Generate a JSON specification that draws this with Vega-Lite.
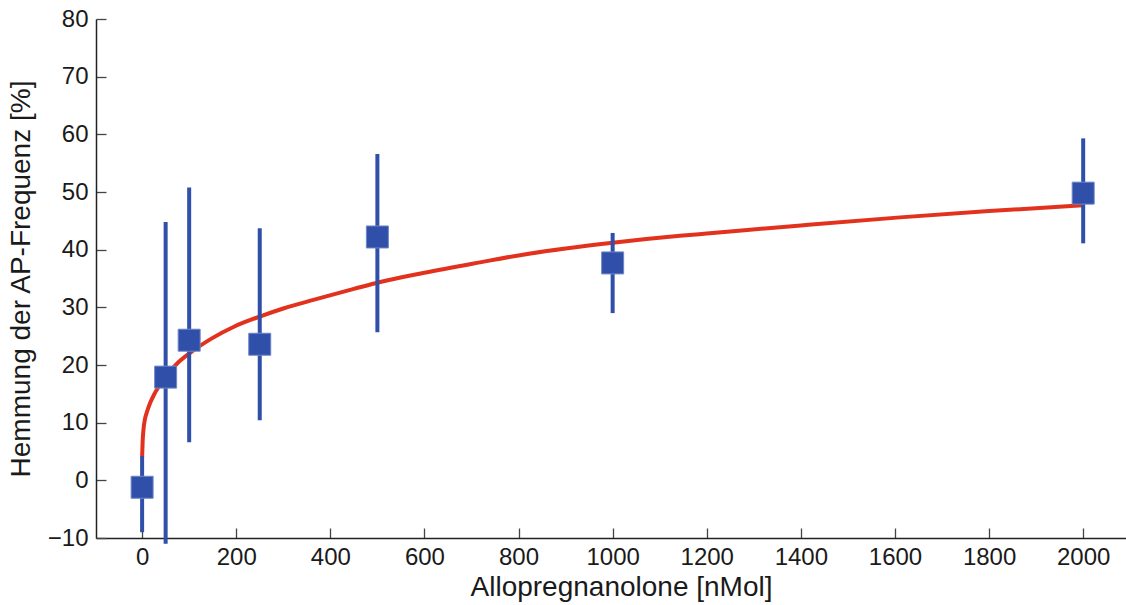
{
  "$schema": "https://vega.github.io/schema/vega-lite/v6.json",
  "width": 1030,
  "height": 519,
  "autosize": "none",
  "padding": {"left": 96, "top": 19, "right": 0, "bottom": 67},
  "background": "white",
  "config": {"view": {"stroke": null}, "font": "Liberation Sans"},
  "datasets": {
    "pts": [
      {"conc": 0, "inh": -1.2, "lo": -9.0, "hi": 4.2},
      {"conc": 50, "inh": 17.9, "lo": -11.0, "hi": 44.8},
      {"conc": 100, "inh": 24.3, "lo": 6.6, "hi": 50.8},
      {"conc": 250, "inh": 23.6, "lo": 10.4, "hi": 43.7},
      {"conc": 500, "inh": 42.2, "lo": 25.7, "hi": 56.6},
      {"conc": 1000, "inh": 37.7, "lo": 29.0, "hi": 42.9},
      {"conc": 2000, "inh": 49.8, "lo": 41.1, "hi": 59.3}
    ],
    "fit": [
      {"conc": 0, "inh": 4.0},
      {"conc": 1, "inh": 6.5},
      {"conc": 3, "inh": 8.9},
      {"conc": 6, "inh": 10.6},
      {"conc": 10, "inh": 11.8},
      {"conc": 17, "inh": 13.4},
      {"conc": 25, "inh": 14.8},
      {"conc": 35, "inh": 16.2},
      {"conc": 53, "inh": 18.3},
      {"conc": 75, "inh": 20.3},
      {"conc": 102, "inh": 22.1},
      {"conc": 150, "inh": 24.7},
      {"conc": 194, "inh": 26.6},
      {"conc": 250, "inh": 28.4},
      {"conc": 300, "inh": 29.8},
      {"conc": 364, "inh": 31.3},
      {"conc": 450, "inh": 33.2},
      {"conc": 506, "inh": 34.4},
      {"conc": 600, "inh": 36.0},
      {"conc": 718, "inh": 37.8},
      {"conc": 800, "inh": 39.0},
      {"conc": 900, "inh": 40.2},
      {"conc": 1000, "inh": 41.2},
      {"conc": 1143, "inh": 42.4},
      {"conc": 1200, "inh": 42.8},
      {"conc": 1400, "inh": 44.2},
      {"conc": 1611, "inh": 45.6},
      {"conc": 1800, "inh": 46.7},
      {"conc": 2000, "inh": 47.7}
    ]
  },
  "layer": [
    {
      "mark": {"type": "rule", "color": "#d9d9d9", "strokeWidth": 5},
      "encoding": {"y": {"datum": -1, "type": "quantitative"}}
    },
    {
      "data": {"name": "fit"},
      "mark": {"type": "line", "color": "#e2321e", "strokeWidth": 4, "interpolate": "monotone"},
      "encoding": {
        "x": {"field": "conc", "type": "quantitative"},
        "y": {"field": "inh", "type": "quantitative"}
      }
    },
    {
      "data": {"name": "pts"},
      "mark": {"type": "rule", "color": "#2f4fa8", "strokeWidth": 4, "clip": false},
      "encoding": {
        "x": {"field": "conc", "type": "quantitative"},
        "y": {"field": "lo", "type": "quantitative"},
        "y2": {"field": "hi"}
      }
    },
    {
      "data": {"name": "pts"},
      "mark": {"type": "point", "shape": "square", "filled": true, "size": 484, "color": "#2f4fa8", "opacity": 1, "stroke": "#6f86c8", "strokeWidth": 1},
      "encoding": {
        "x": {
          "field": "conc", "type": "quantitative",
          "scale": {"domain": [-98, 2091], "nice": false, "zero": false},
          "axis": {
            "title": "Allopregnanolone [nMol]",
            "values": [0, 200, 400, 600, 800, 1000, 1200, 1400, 1600, 1800, 2000],
            "format": "d",
            "grid": false,
            "tickSize": -10,
            "tickColor": "#444444",
            "tickWidth": 1.3,
            "domainColor": "#222222",
            "domainWidth": 1.5,
            "labelFontSize": 24,
            "labelColor": "#1a1a1a",
            "labelPadding": 17,
            "titleFontSize": 28,
            "titleFontWeight": "normal",
            "titleColor": "#1a1a1a",
            "titlePadding": 4,
            "titleX": 525
          }
        },
        "y": {
          "field": "inh", "type": "quantitative",
          "scale": {"domain": [-10, 80], "nice": false, "zero": false},
          "axis": {
            "title": "Hemmung der AP-Frequenz [%]",
            "values": [-10, 0, 10, 20, 30, 40, 50, 60, 70, 80],
            "labelExpr": "replace(datum.label, '-', '−')",
            "grid": false,
            "tickSize": -10,
            "tickColor": "#444444",
            "tickWidth": 1.3,
            "domainColor": "#222222",
            "domainWidth": 1.5,
            "labelFontSize": 24,
            "labelColor": "#1a1a1a",
            "labelPadding": 18,
            "titleFontSize": 28,
            "titleFontWeight": "normal",
            "titleColor": "#1a1a1a",
            "titlePadding": 12
          }
        }
      }
    }
  ]
}
